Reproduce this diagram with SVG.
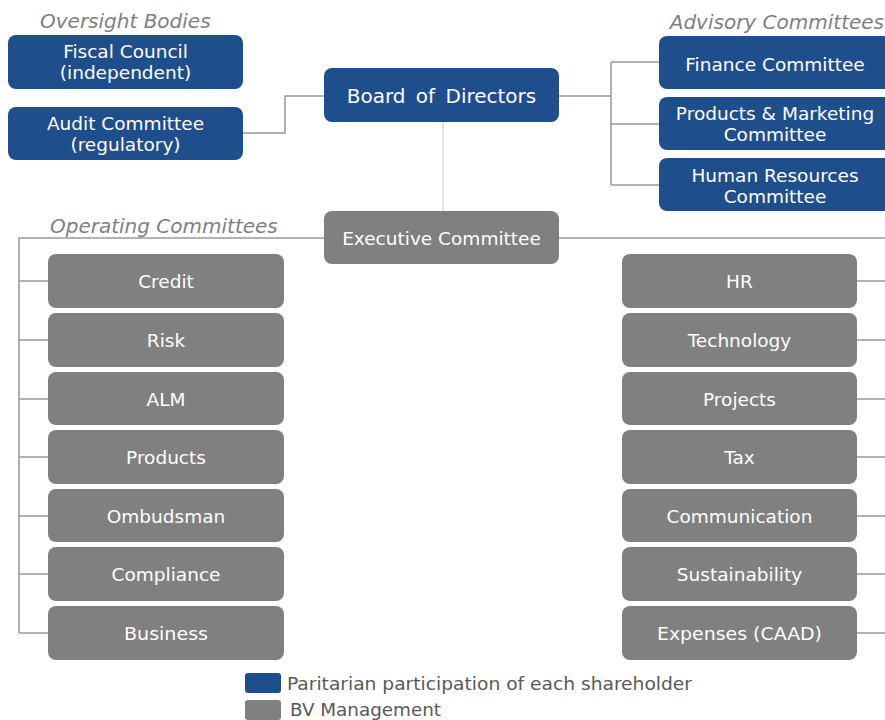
<svg xmlns="http://www.w3.org/2000/svg" width="885" height="720" viewBox="0 0 885 720">
<style>
.blue{fill:#1f4e8d}
.gray{fill:#808080}
.lbl{font-family:"DejaVu Sans","Liberation Sans",sans-serif;font-size:18.5px;fill:#ffffff;text-anchor:middle}
.cond{font-family:"DejaVu Sans Condensed","DejaVu Sans",sans-serif;font-size:18.5px;fill:#ffffff;text-anchor:middle}
.hdr{font-family:"DejaVu Sans","Liberation Sans",sans-serif;font-style:italic;font-size:20px;fill:#7f7f7f}
.leg{font-family:"DejaVu Sans Condensed","DejaVu Sans",sans-serif;font-size:17px;fill:#595959}
.ln{fill:none;stroke:#999999;stroke-width:1.5}
</style>
<rect width="885" height="720" fill="#ffffff"/>
<g id="connectors">
<path class="ln" d="M243,133 H285 V96 H324"/>
<path class="ln" d="M559,96 H611 M611,62 V185 M611,62 H659 M611,124 H659 M611,185 H659"/>
<path d="M443,122 V211" fill="none" stroke="#ddd8d0" stroke-width="1.5"/>
<path class="ln" d="M324,238 H19 V633 M19,281 H48 M19,340 H48 M19,399 H48 M19,457 H48 M19,516 H48 M19,574 H48 M19,633 H48"/>
<path class="ln" d="M559,238 H885 M857,281 H885 M857,340 H885 M857,399 H885 M857,457 H885 M857,516 H885 M857,574 H885 M857,633 H885"/>
</g>
<g id="headers">
<text class="hdr" x="40" y="28">Oversight Bodies</text>
<text class="hdr" x="884" y="29" text-anchor="end">Advisory Committees</text>
<text class="hdr" x="50" y="233">Operating Committees</text>
</g>
<g id="fiscal-council"><rect class="blue" x="8" y="35" width="235" height="54" rx="8"/><text class="lbl" x="125.5" y="58">Fiscal Council</text><text class="lbl" x="125.5" y="79">(independent)</text></g>
<g id="audit-committee"><rect class="blue" x="8" y="107" width="235" height="53" rx="8"/><text class="lbl" x="125.5" y="130">Audit Committee</text><text class="lbl" x="125.5" y="151">(regulatory)</text></g>
<g id="board"><rect class="blue" x="324" y="68" width="235" height="54" rx="8"/><text class="lbl" x="441.5" y="103" style="font-size:20px;word-spacing:4px">Board of Directors</text></g>
<g id="finance-committee"><rect class="blue" x="659" y="36" width="240" height="53" rx="8"/><text class="lbl" x="775" y="71">Finance Committee</text></g>
<g id="products-marketing-committee"><rect class="blue" x="659" y="97" width="240" height="53" rx="8"/><text class="lbl" x="775" y="120">Products &amp; Marketing</text><text class="lbl" x="775" y="141">Committee</text></g>
<g id="hr-committee"><rect class="blue" x="659" y="158" width="240" height="53" rx="8"/><text class="lbl" x="775" y="182">Human Resources</text><text class="lbl" x="775" y="203">Committee</text></g>
<g id="executive-committee"><rect class="gray" x="324" y="211" width="235" height="53" rx="8"/><text class="lbl" x="441.5" y="245">Executive Committee</text></g>
<g id="credit"><rect class="gray" x="48" y="254" width="236" height="54" rx="8"/><text class="lbl" x="166" y="288">Credit</text></g>
<g id="risk"><rect class="gray" x="48" y="313" width="236" height="54" rx="8"/><text class="lbl" x="166" y="347">Risk</text></g>
<g id="alm"><rect class="gray" x="48" y="372" width="236" height="53" rx="8"/><text class="lbl" x="166" y="406">ALM</text></g>
<g id="products"><rect class="gray" x="48" y="430" width="236" height="54" rx="8"/><text class="lbl" x="166" y="464">Products</text></g>
<g id="ombudsman"><rect class="gray" x="48" y="489" width="236" height="53" rx="8"/><text class="lbl" x="166" y="523">Ombudsman</text></g>
<g id="compliance"><rect class="gray" x="48" y="547" width="236" height="54" rx="8"/><text class="lbl" x="166" y="581">Compliance</text></g>
<g id="business"><rect class="gray" x="48" y="606" width="236" height="54" rx="8"/><text class="cond" x="166" y="640" textLength="84" lengthAdjust="spacingAndGlyphs">Business</text></g>
<g id="hr"><rect class="gray" x="622" y="254" width="235" height="54" rx="8"/><text class="lbl" x="739.5" y="288">HR</text></g>
<g id="technology"><rect class="gray" x="622" y="313" width="235" height="54" rx="8"/><text class="lbl" x="739.5" y="347">Technology</text></g>
<g id="projects"><rect class="gray" x="622" y="372" width="235" height="53" rx="8"/><text class="lbl" x="739.5" y="406">Projects</text></g>
<g id="tax"><rect class="gray" x="622" y="430" width="235" height="54" rx="8"/><text class="lbl" x="739.5" y="464">Tax</text></g>
<g id="communication"><rect class="gray" x="622" y="489" width="235" height="53" rx="8"/><text class="lbl" x="739.5" y="523">Communication</text></g>
<g id="sustainability"><rect class="gray" x="622" y="547" width="235" height="54" rx="8"/><text class="lbl" x="739.5" y="581">Sustainability</text></g>
<g id="expenses"><rect class="gray" x="622" y="606" width="235" height="54" rx="8"/><text class="cond" x="739.5" y="640" textLength="165" lengthAdjust="spacingAndGlyphs">Expenses (CAAD)</text></g>
<g id="legend">
<rect class="blue" x="245" y="673" width="36" height="20" rx="3"/>
<text class="leg" x="287" y="690" textLength="405" lengthAdjust="spacingAndGlyphs">Paritarian participation of each shareholder</text>
<rect class="gray" x="245" y="700" width="36" height="20" rx="3"/>
<text class="leg" x="290" y="716" textLength="151" lengthAdjust="spacingAndGlyphs">BV Management</text>
</g>
</svg>
